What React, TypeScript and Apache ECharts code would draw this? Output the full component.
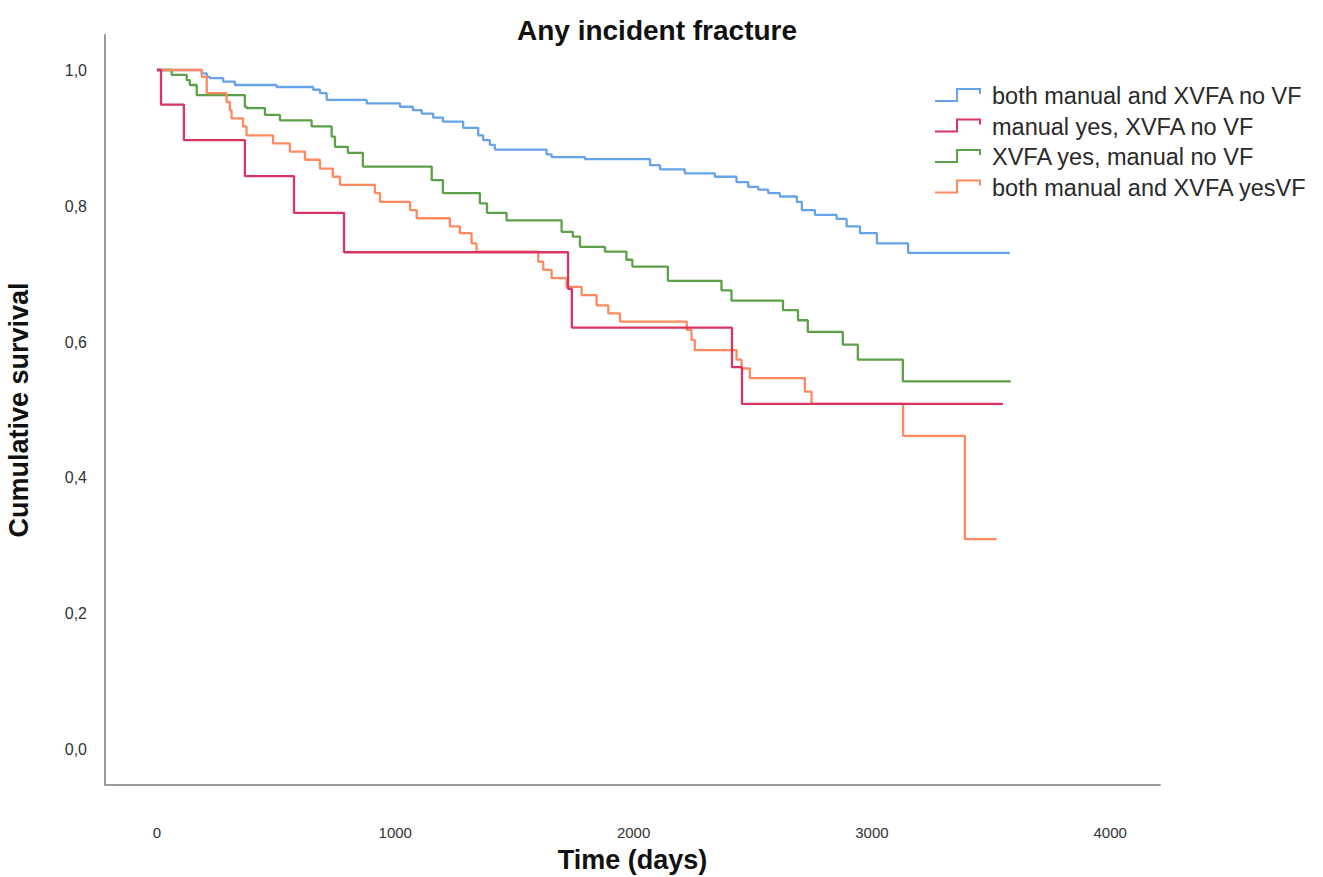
import React, { useEffect, useRef } from "react";
import * as echarts from "echarts";

const seriesNames = [
  "both manual and XVFA no VF",
  "manual yes, XVFA no VF",
  "XVFA yes, manual no VF",
  "both manual and XVFA yesVF",
];
const seriesColors = ["#66A3E8", "#D93562", "#5E9F4A", "#FF8A60"];

const xTicks = [0, 1000, 2000, 3000, 4000];
const yTicks = [0, 0.2, 0.4, 0.6, 0.8, 1.0];

// [time (days), cumulative survival]
const blueData: number[][] = [
  [0, 1.0], [188, 0.995], [209, 0.99], [222, 0.988], [278, 0.983], [327, 0.978],
  [502, 0.975], [656, 0.971], [684, 0.966], [712, 0.956], [880, 0.951], [1020, 0.946],
  [1074, 0.941], [1111, 0.936], [1159, 0.93], [1200, 0.924], [1285, 0.915], [1348, 0.904],
  [1369, 0.897], [1397, 0.89], [1418, 0.883], [1635, 0.876], [1656, 0.872], [1796, 0.869],
  [2069, 0.86], [2111, 0.854], [2215, 0.848], [2341, 0.843], [2432, 0.835], [2481, 0.828],
  [2523, 0.824], [2565, 0.819], [2614, 0.814], [2685, 0.806], [2706, 0.794], [2761, 0.787],
  [2852, 0.781], [2894, 0.77], [2950, 0.76], [3021, 0.745], [3152, 0.731], [3579, 0.731],
];

const redData: number[][] = [
  [0, 1.0], [17, 0.949], [113, 0.897], [369, 0.844], [575, 0.79], [785, 0.732],
  [1725, 0.678], [1741, 0.621], [2413, 0.563], [2455, 0.509], [3550, 0.509],
];

const greenData: number[][] = [
  [0, 1.0], [62, 0.993], [125, 0.985], [138, 0.978], [167, 0.963], [369, 0.946],
  [376, 0.944], [453, 0.934], [516, 0.926], [649, 0.917], [733, 0.902], [747, 0.887],
  [801, 0.878], [864, 0.858], [1153, 0.838], [1200, 0.819], [1355, 0.804], [1385, 0.79],
  [1467, 0.779], [1698, 0.762], [1745, 0.755], [1775, 0.74], [1880, 0.733], [1970, 0.721],
  [1995, 0.711], [2144, 0.69], [2369, 0.676], [2411, 0.661], [2627, 0.647], [2690, 0.632],
  [2731, 0.615], [2878, 0.596], [2941, 0.574], [3130, 0.542], [3583, 0.542],
];

const orangeData: number[][] = [
  [0, 1.0], [188, 0.99], [209, 0.966], [292, 0.953], [306, 0.941], [313, 0.929],
  [361, 0.917], [376, 0.904], [487, 0.892], [558, 0.88], [621, 0.868], [684, 0.855],
  [738, 0.843], [768, 0.831], [915, 0.819], [936, 0.806], [1062, 0.794], [1090, 0.782],
  [1229, 0.77], [1271, 0.76], [1320, 0.745], [1341, 0.733], [1600, 0.718], [1621, 0.706],
  [1656, 0.694], [1719, 0.681], [1782, 0.669], [1845, 0.654], [1894, 0.642], [1943, 0.63],
  [2223, 0.618], [2243, 0.603], [2257, 0.588], [2432, 0.574], [2453, 0.561], [2488, 0.547],
  [2719, 0.527], [2747, 0.509], [3131, 0.462], [3390, 0.31], [3523, 0.31],
];

const allData = [blueData, redData, greenData, orangeData];

const FONT = "'Liberation Sans', Arial, sans-serif";

export default function App() {
  const ref = useRef<HTMLDivElement>(null);

  useEffect(() => {
    if (!ref.current) return;
    const chart = echarts.init(ref.current, undefined, { renderer: "svg" });

    const legendGraphics: any[] = [];
    seriesNames.forEach((name, i) => {
      const dy = i * 30.5;
      legendGraphics.push({
        type: "polyline",
        shape: {
          points: [
            [935, 101 + dy],
            [957, 101 + dy],
            [957, 89 + dy],
            [980, 89 + dy],
            [980, 94 + dy],
          ],
        },
        style: { stroke: seriesColors[i], lineWidth: 2, fill: "none" },
      });
      legendGraphics.push({
        type: "text",
        x: 992,
        y: 96 + dy,
        style: {
          text: name,
          fill: "#2a2a2a",
          font: `23.5px ${FONT}`,
          verticalAlign: "middle",
          align: "left",
        },
      });
    });

    const option: any = {
      animation: false,
      backgroundColor: "#ffffff",
      title: {
        text: "Any incident fracture",
        left: 652,
        top: 11,
        textAlign: "center",
        textStyle: { fontSize: 28, fontWeight: "bold", color: "#111", fontFamily: FONT },
      },
      grid: {
        left: 105,
        right: 163,
        top: 35,
        bottom: 92,
        containLabel: false,
        outerBoundsMode: "none",
      },
      xAxis: {
        type: "value",
        min: -218,
        max: 4209,
        name: "Time (days)",
        nameLocation: "middle",
        nameGap: 61,
        nameTextStyle: { fontSize: 27, fontWeight: "bold", color: "#111", fontFamily: FONT },
        axisLine: { show: true, onZero: false, lineStyle: { color: "#9a9a9a", width: 2 } },
        axisTick: { show: false },
        splitLine: { show: false },
        axisLabel: {
          customValues: xTicks,
          margin: 40,
          fontSize: 15,
          color: "#333",
          fontFamily: FONT,
          formatter: (v: number) => String(Math.round(v)),
        },
      },
      yAxis: {
        type: "value",
        min: -0.0515,
        max: 1.0515,
        name: "Cumulative survival",
        nameLocation: "middle",
        nameGap: 73,
        nameRotate: 90,
        nameTextStyle: { fontSize: 27, fontWeight: "bold", color: "#111", fontFamily: FONT },
        axisLine: { show: true, onZero: false, lineStyle: { color: "#9a9a9a", width: 2 } },
        axisTick: { show: false },
        splitLine: { show: false },
        axisLabel: {
          customValues: yTicks,
          margin: 18,
          fontSize: 16,
          color: "#333",
          fontFamily: FONT,
          formatter: (v: number) => v.toFixed(1).replace(".", ","),
        },
      },
      series: seriesNames.map((name, i) => ({
        name,
        type: "line",
        step: "end",
        data: allData[i],
        showSymbol: false,
        symbol: "none",
        lineStyle: { color: seriesColors[i], width: 2.3 },
        itemStyle: { color: seriesColors[i] },
        z: i === 1 ? 5 : 2,
      })),
      graphic: legendGraphics,
    };

    chart.setOption(option);
    return () => chart.dispose();
  }, []);

  return (
    <div
      ref={ref}
      style={{ position: "fixed", left: 0, top: 0, width: 1323, height: 877, background: "#fff" }}
    />
  );
}
